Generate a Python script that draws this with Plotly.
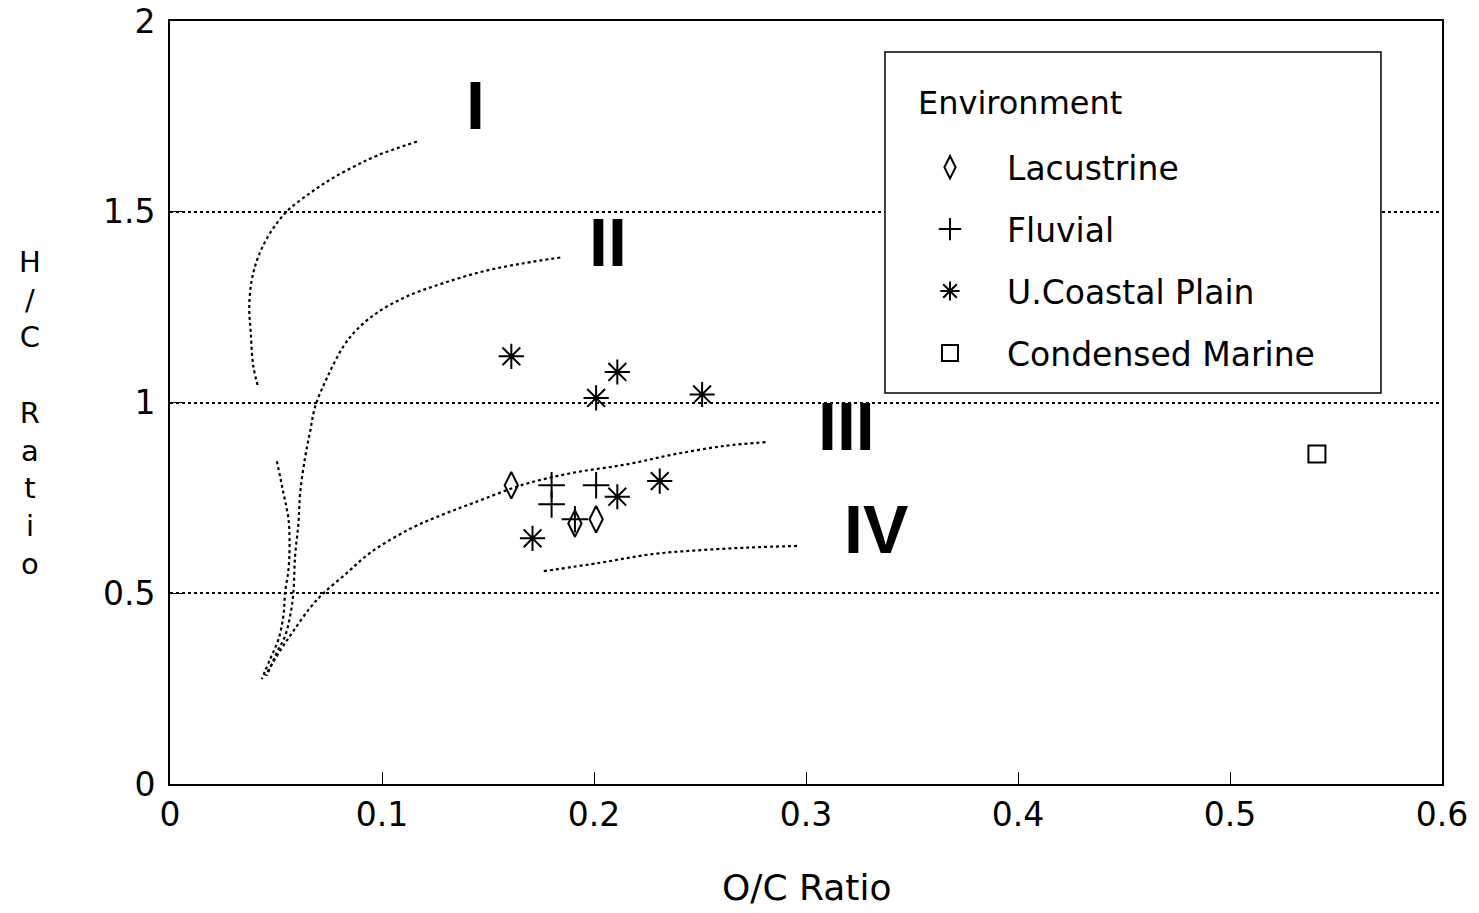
import plotly.graph_objects as go

# ---- Van Krevelen evolution paths ----
type1_x = [0.1165, 0.0976, 0.0866, 0.0755, 0.0661, 0.0551, 0.0472, 0.0417, 0.0386, 0.0374,
           0.0381, 0.0393, 0.0417, None, 0.0504, 0.0535, 0.0559, 0.0564, 0.0559, 0.0543,
           0.0535, 0.0512, 0.0472, 0.0433]
type1_y = [1.684, 1.647, 1.618, 1.584, 1.549, 1.501, 1.444, 1.383, 1.322, 1.252,
           1.182, 1.095, 1.038, None, 0.846, 0.763, 0.694, 0.624, 0.563, 0.502,
           0.441, 0.380, 0.327, 0.275]

type2_x = [0.1841, 0.1668, 0.1479, 0.129, 0.1117, 0.0976, 0.0881, 0.0818, 0.074, 0.0685,
           0.0661, 0.0637, 0.0614, 0.0606, 0.059, 0.0582, 0.0567, 0.0543, 0.0504, 0.0457]
type2_y = [1.380, 1.365, 1.344, 1.313, 1.278, 1.235, 1.191, 1.147, 1.064, 0.990,
           0.924, 0.855, 0.763, 0.685, 0.598, 0.502, 0.441, 0.388, 0.345, 0.284]

type3_x = [0.2809, 0.2613, 0.2377, 0.2156, 0.1904, 0.1668, 0.1432, 0.129, 0.1133, 0.0944,
           0.0834, 0.0724, 0.0661, 0.0582, 0.0519, 0.0449]
type3_y = [0.896, 0.886, 0.864, 0.838, 0.816, 0.785, 0.737, 0.707, 0.669, 0.606,
           0.553, 0.500, 0.462, 0.401, 0.349, 0.284]

type4_x = [0.1763, 0.203, 0.2266, 0.2502, 0.2738, 0.2958]
type4_y = [0.558, 0.580, 0.602, 0.613, 0.620, 0.624]

# ---- Samples by environment ----
lacustrine_x = [0.161, 0.191, 0.201]
lacustrine_y = [0.783, 0.683, 0.694]

fluvial_x = [0.18, 0.18, 0.201, 0.191]
fluvial_y = [0.783, 0.733, 0.783, 0.694]

coastal_x = [0.161, 0.211, 0.201, 0.251, 0.231, 0.211, 0.171]
coastal_y = [1.121, 1.080, 1.012, 1.021, 0.794, 0.753, 0.644]

marine_x = [0.541]
marine_y = [0.865]

type_labels = ["I", "II", "III", "IV"]
type_label_x = [0.144, 0.2067, 0.3192, 0.333]
type_label_y = [1.78, 1.422, 0.938, 0.668]

FONT = "DejaVu Sans"

fig = go.Figure()

curve_line = dict(color="black", width=2.2, dash="dot", shape="spline")
for cx, cy in [(type1_x, type1_y), (type2_x, type2_y), (type3_x, type3_y), (type4_x, type4_y)]:
    fig.add_trace(go.Scatter(x=cx, y=cy, mode="lines", line=curve_line,
                             showlegend=False, hoverinfo="skip"))

fig.add_trace(go.Scatter(
    x=lacustrine_x, y=lacustrine_y, mode="markers", name="Lacustrine", legendgroup="g1",
    marker=dict(symbol="diamond-tall-open", size=19, color="black",
                line=dict(width=2, color="black"))))
fig.add_trace(go.Scatter(
    x=fluvial_x, y=fluvial_y, mode="markers", name="Fluvial", legendgroup="g2",
    marker=dict(symbol="cross-thin-open", size=19, color="black",
                line=dict(width=2, color="black"))))
fig.add_trace(go.Scatter(
    x=coastal_x, y=coastal_y, mode="markers", name="U.Coastal Plain", legendgroup="g3",
    marker=dict(symbol="asterisk-open", size=21, color="black",
                line=dict(width=2, color="black"))))
fig.add_trace(go.Scatter(
    x=marine_x, y=marine_y, mode="markers", name="Condensed Marine", legendgroup="g4",
    marker=dict(symbol="square-open", size=17, color="black",
                line=dict(width=2, color="black"))))

annotations = []
for t, tx, ty in zip(type_labels, type_label_x, type_label_y):
    annotations.append(dict(x=tx, y=ty, xref="x", yref="y", text=t, showarrow=False,
                            xanchor="center", yanchor="middle",
                            font=dict(family="Liberation Sans Narrow, Liberation Sans",
                                      size=68, color="black", weight="bold")))

annotations.append(dict(x=0.5865, y=0.8925, xref="paper", yref="paper", text="Environment",
                        showarrow=False, xanchor="left", yanchor="middle",
                        font=dict(family=FONT, size=32, color="black")))
annotations.append(dict(x=0.5, y=-0.136, xref="paper", yref="paper", text="O/C Ratio",
                        showarrow=False, xanchor="center", yanchor="middle",
                        font=dict(family=FONT, size=36, color="black")))
annotations.append(dict(x=-0.110, y=0.4856, xref="paper", yref="paper",
                        text="H<br>/<br>C<br> <br>R<br>a<br>t<br>i<br>o",
                        showarrow=False, xanchor="center", yanchor="middle", align="center",
                        font=dict(family=FONT, size=29, color="black")))

fig.update_layout(
    width=1479, height=913,
    margin=dict(l=170, r=37, t=21, b=129),
    paper_bgcolor="white", plot_bgcolor="white",
    showlegend=True,
    legend=dict(x=0.5684, y=0.845, xanchor="left", yanchor="top",
                bgcolor="rgba(0,0,0,0)", borderwidth=0,
                font=dict(family=FONT, size=33, color="black"),
                itemwidth=104, tracegroupgap=16),
    annotations=annotations,
    shapes=[dict(type="rect", xref="paper", yref="paper", x0=0.5621, x1=0.952,
                 y0=0.5125, y1=0.9594, line=dict(color="black", width=1.5),
                 fillcolor="white", layer="above")],
)

fig.update_xaxes(range=[0, 0.6], dtick=0.1, tick0=0, showgrid=False, zeroline=False,
                 showline=True, linecolor="black", linewidth=2, mirror=True,
                 ticks="inside", ticklen=12, tickwidth=1.2, tickcolor="black",
                 automargin=False,
                 tickfont=dict(family=FONT, size=33, color="black"))
fig.update_yaxes(range=[0, 2], dtick=0.5, tick0=0, showgrid=True, gridcolor="black",
                 griddash="dot", gridwidth=1.5, zeroline=False,
                 showline=True, linecolor="black", linewidth=2, mirror=True,
                 ticks="inside", ticklen=12, tickwidth=1.2, tickcolor="black",
                 ticklabelstandoff=6, automargin=False,
                 tickfont=dict(family=FONT, size=33, color="black"))

fig.write_html("out.html")
